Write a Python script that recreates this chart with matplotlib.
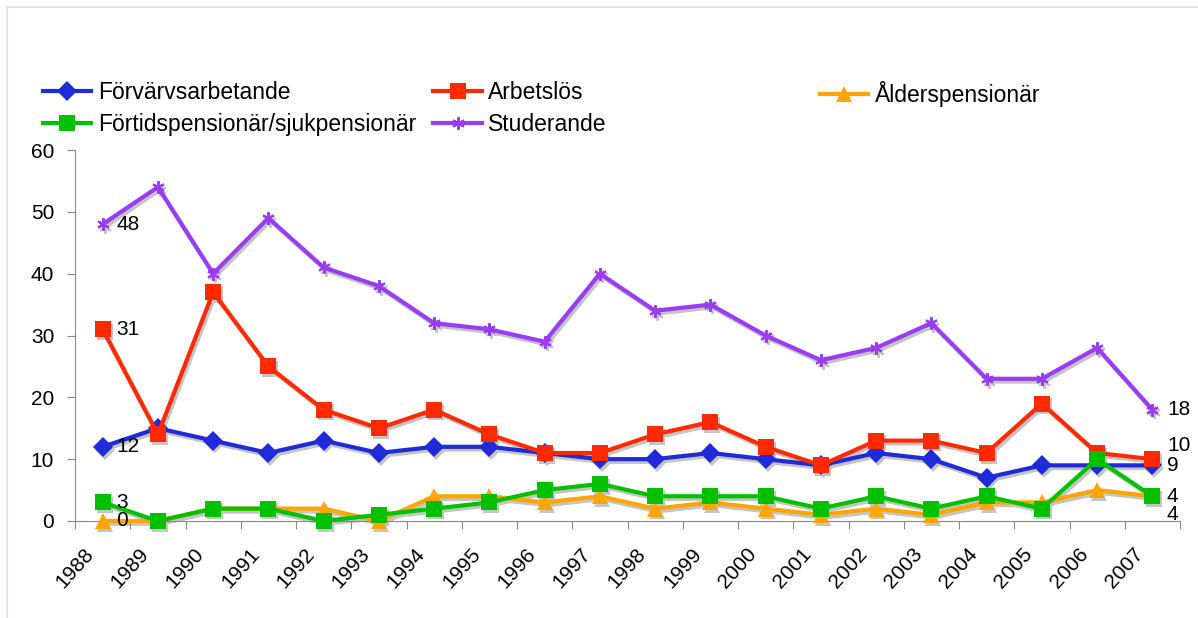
"""
Line chart: share (%) per category by year, 1988-2007.
"""

import numpy as np
import matplotlib.pyplot as plt
from matplotlib.patches import Rectangle
from matplotlib.transforms import ScaledTranslation

plt.rcParams["font.family"] = ["Liberation Sans", "DejaVu Sans"]

years = [str(y) for y in range(1988, 2008)]

forvarvsarbetande = [12, 15, 13, 11, 13, 11, 12, 12, 11, 10, 10, 11, 10, 9, 11, 10, 7, 9, 9, 9]
arbetslos = [31, 14, 37, 25, 18, 15, 18, 14, 11, 11, 14, 16, 12, 9, 13, 13, 11, 19, 11, 10]
alderspensionar = [0, 0, 2, 2, 2, 0, 4, 4, 3, 4, 2, 3, 2, 1, 2, 1, 3, 3, 5, 4]
fortidspensionar = [3, 0, 2, 2, 0, 1, 2, 3, 5, 6, 4, 4, 4, 2, 4, 2, 4, 2, 10, 4]
studerande = [48, 54, 40, 49, 41, 38, 32, 31, 29, 40, 34, 35, 30, 26, 28, 32, 23, 23, 28, 18]

# (label, values, colour, marker, markersize, end-label y nudge in pt)
series = [
    ("Förvärvsarbetande", forvarvsarbetande, "#1f2ad8", "D", 10, 0),
    ("Arbetslös", arbetslos, "#ff2a00", "s", 11, 10),
    ("Ålderspensionär", alderspensionar, "#ffa500", "^", 11, -13),
    ("Förtidspensionär/sjukpensionär", fortidspensionar, "#00c000", "s", 11, 0),
    ("Studerande", studerande, "#9a3cf5", (6, 2, 0), 9, 0),
]

fig = plt.figure(figsize=(11.98, 6.18), dpi=100)
ax = fig.add_axes([75 / 1198, 97 / 618, 1105 / 1198, 371 / 618])
x = np.arange(len(years))

# grey drop shadow under every series
shadow = ax.transData + ScaledTranslation(1.5 / 72, -2 / 72, fig.dpi_scale_trans)
lines = {}
for label, vals, color, marker, ms, _ in series:
    star = marker == (6, 2, 0)
    ax.plot(x, vals, color="#c4c4c4", lw=3, marker=marker, ms=ms,
            mew=1.5 if star else 0, transform=shadow, zorder=1, clip_on=False)
for i, (label, vals, color, marker, ms, _) in enumerate(series):
    star = marker == (6, 2, 0)
    lines[label], = ax.plot(x, vals, color=color, lw=3, marker=marker, ms=ms,
                            mec=color, mew=1.5 if star else 0,
                            label=label, zorder=3 + i, clip_on=False)

# value labels at first and last year
for label, vals, color, marker, ms, dy in series:
    ax.annotate(str(vals[0]), (x[0], vals[0]), xytext=(10, 0),
                textcoords="offset points", ha="left", va="center",
                fontsize=15, zorder=10)
    ax.annotate(str(vals[-1]), (x[-1], vals[-1]), xytext=(10.5, dy),
                textcoords="offset points", ha="left", va="center",
                fontsize=15, zorder=10)

ax.set_xlim(-0.5, len(years) - 0.5)
ax.set_ylim(0, 60)
ax.set_yticks(range(0, 61, 10))
ax.set_xticks(np.arange(-0.5, len(years), 1.0))
ax.set_xticklabels([])
ax.set_xticks(x - 0.35, years, minor=True)
ax.tick_params(axis="x", which="major", length=6, color="#888888", direction="out")
ax.tick_params(axis="x", which="minor", length=0, pad=17, labelsize=15,
               labelrotation=48)
for t in ax.get_xticklabels(minor=True):
    t.set_ha("right")
    t.set_rotation_mode("anchor")
ax.tick_params(axis="y", length=6, color="#888888", labelsize=15, pad=9)
for side in ("top", "right"):
    ax.spines[side].set_visible(False)
for side in ("left", "bottom"):
    ax.spines[side].set_color("#888888")

# legend: two left columns, Ålderspensionär on its own further right
order = ["Förvärvsarbetande", "Förtidspensionär/sjukpensionär", "Arbetslös", "Studerande"]
leg_kw = dict(frameon=False, fontsize=16.5, handlelength=2.1, handletextpad=0.3,
              labelspacing=0.4, borderaxespad=0, borderpad=0, loc="upper left")
fig.legend([lines[k] for k in order], order, ncol=2, columnspacing=0.75,
           bbox_to_anchor=(43 / 1198, 1 - 81 / 618), **leg_kw)
fig.legend([lines["Ålderspensionär"]], ["Ålderspensionär"],
           bbox_to_anchor=(820 / 1198, 1 - 81 / 618), **leg_kw)

# light chart-area border
fig.add_artist(Rectangle((7 / 1198, -0.05), 1.1, 1.05 - 7 / 618,
                         transform=fig.transFigure, fill=False,
                         ec="#e4e4e4", lw=1.5))

fig.savefig("out.png", dpi=100)
